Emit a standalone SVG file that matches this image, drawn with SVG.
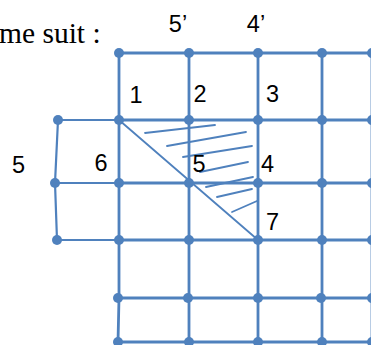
<svg xmlns="http://www.w3.org/2000/svg" width="371" height="345" viewBox="0 0 371 345">
<style>
.ln{stroke:#4F81BD;stroke-width:2.8;fill:none;stroke-linecap:round}
.lt{stroke:#4F81BD;stroke-width:2.2;fill:none;stroke-linecap:round}
.th{stroke:#4F81BD;stroke-width:1.8;fill:none;stroke-linecap:round}
.dot{fill:#4F81BD}
.lb{font-family:"Liberation Sans",Arial,sans-serif;font-size:23.5px;fill:#000;text-anchor:middle}
.tx{font-family:"Liberation Serif","Times New Roman",serif;font-size:29.5px;fill:#000}
</style>
<rect width="371" height="345" fill="#fff"/>
<text class="tx" x="-1" y="43">me suit :</text>
<g id="connectors">
<path class="ln" d="M119,53H373M119,120H373M119,183H373M119,240H373M118,298H373M118,342H373"/>
<path class="ln" d="M119,53V298L118,342M189,53V342M258,53V342M322,53V342M372,53V345"/>
<path class="lt" d="M58,120H119M55,183H119M57,240H119M58,120L55,183L57,240"/>
<path class="th" d="M119,120L258,240"/>
<path class="th" d="M145,133L215,125M167,146L246,132M183,157L252,146M200,172L248,162M206,187L253,177M217,197L252,189M232,212L257,201"/>
</g>
<g id="nodes">
<g id="n-r1"><circle class="dot" cx="119" cy="53" r="5"/><circle class="dot" cx="189" cy="53" r="5"/><circle class="dot" cx="258" cy="53" r="5"/><circle class="dot" cx="322" cy="53" r="5"/><circle class="dot" cx="372" cy="53" r="5"/></g>
<g id="n-r2"><circle class="dot" cx="58" cy="120" r="5"/><circle class="dot" cx="119" cy="120" r="5"/><circle class="dot" cx="189" cy="120" r="5"/><circle class="dot" cx="258" cy="120" r="5"/><circle class="dot" cx="322" cy="120" r="5"/><circle class="dot" cx="372" cy="120" r="5"/></g>
<g id="n-r3"><circle class="dot" cx="55" cy="183" r="5"/><circle class="dot" cx="119" cy="183" r="5"/><circle class="dot" cx="189" cy="183" r="5"/><circle class="dot" cx="258" cy="183" r="5"/><circle class="dot" cx="322" cy="183" r="5"/><circle class="dot" cx="372" cy="183" r="5"/></g>
<g id="n-r4"><circle class="dot" cx="57" cy="240" r="5"/><circle class="dot" cx="119" cy="240" r="5"/><circle class="dot" cx="189" cy="240" r="5"/><circle class="dot" cx="258" cy="240" r="5"/><circle class="dot" cx="322" cy="240" r="5"/><circle class="dot" cx="372" cy="240" r="5"/></g>
<g id="n-r5"><circle class="dot" cx="118" cy="298" r="5"/><circle class="dot" cx="188" cy="298" r="5"/><circle class="dot" cx="258" cy="298" r="5"/><circle class="dot" cx="321" cy="298" r="5"/><circle class="dot" cx="372" cy="298" r="5"/></g>
<g id="n-r6"><circle class="dot" cx="118" cy="342" r="5"/><circle class="dot" cx="189" cy="342" r="5"/><circle class="dot" cx="258" cy="342" r="5"/><circle class="dot" cx="322" cy="342" r="5"/><circle class="dot" cx="372" cy="342" r="5"/></g>
</g>
<g id="labels">
<text class="lb" x="178" y="32">5’</text>
<text class="lb" x="256" y="32">4’</text>
<text class="lb" x="136" y="103">1</text>
<text class="lb" x="200" y="102">2</text>
<text class="lb" x="272.5" y="102">3</text>
<text class="lb" x="18.5" y="173">5</text>
<text class="lb" x="101" y="171">6</text>
<text class="lb" x="199" y="172">5</text>
<text class="lb" x="267.5" y="172">4</text>
<text class="lb" x="272.5" y="230">7</text>
</g>
</svg>
